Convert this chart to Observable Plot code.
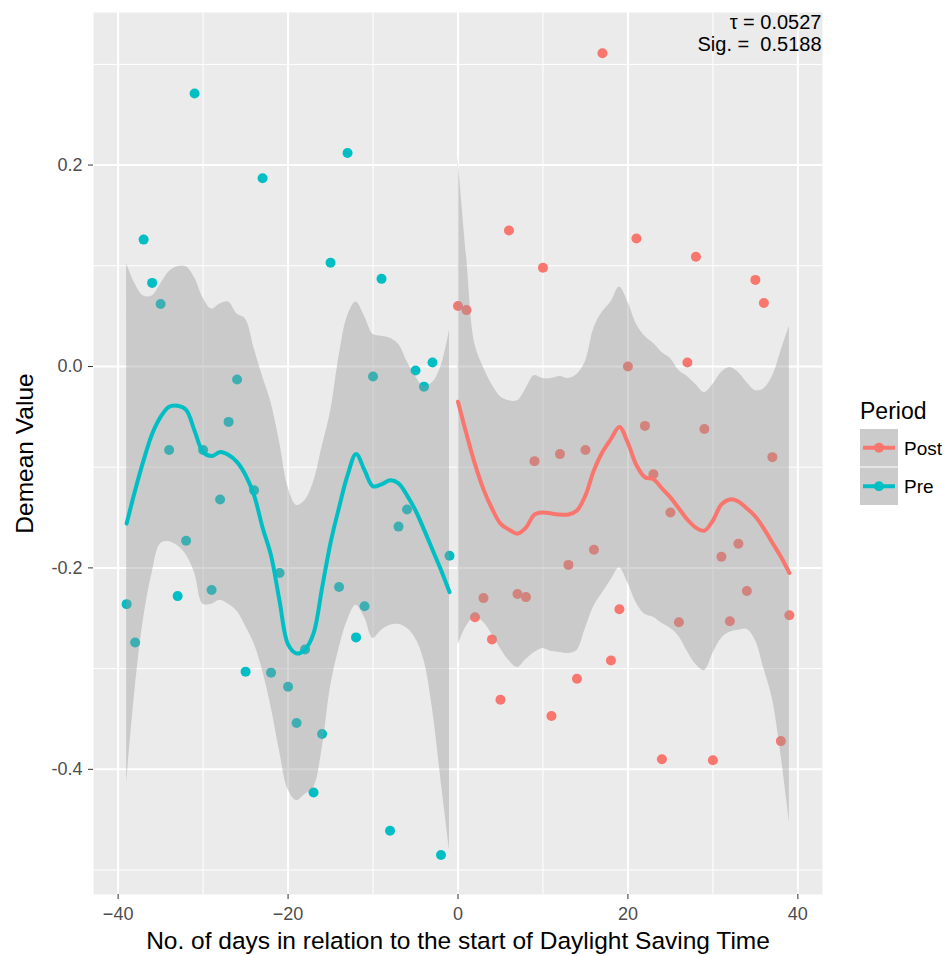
<!DOCTYPE html>
<html><head><meta charset="utf-8">
<script src="https://cdn.jsdelivr.net/npm/d3@7"></script>
<script src="https://cdn.jsdelivr.net/npm/@observablehq/plot@0.6"></script>
<style>
body{margin:0;background:#fff;font-family:"Liberation Sans",Arial,Helvetica,sans-serif;}
#wrap{position:relative;width:946px;height:956px;background:#fff;}
#chart{position:absolute;left:0;top:0;}
#legend{position:absolute;left:858px;top:394px;}
</style></head><body>
<div id="wrap"><div id="chart"></div><div id="legend"></div></div>
<script>
// ---- data ----
const periods = ["Post", "Pre"];
const periodColors = ["#F8766D", "#00BFC4"];

const preDays = [-39,-38,-37,-36,-35,-34,-33,-32,-31,-30,-29,-28,-27,-26,-25,-24,-23,-22,-21,-20,-19,-18,-17,-16,-15,-14,-13,-12,-11,-10,-9,-8,-7,-6,-5,-4,-3,-2,-1];
const preValues = [-0.236,-0.274,0.126,0.083,0.062,-0.083,-0.228,-0.173,0.271,-0.083,-0.222,-0.132,-0.055,-0.013,-0.303,-0.123,0.187,-0.304,-0.205,-0.318,-0.354,-0.281,-0.423,-0.365,0.103,-0.219,0.212,-0.269,-0.238,-0.010,0.087,-0.461,-0.159,-0.142,-0.004,-0.020,0.004,-0.485,-0.188];
const preFit = [-0.156,-0.123,-0.093,-0.067,-0.050,-0.040,-0.039,-0.043,-0.064,-0.085,-0.089,-0.085,-0.088,-0.095,-0.108,-0.128,-0.160,-0.188,-0.233,-0.276,-0.285,-0.281,-0.265,-0.220,-0.175,-0.140,-0.108,-0.087,-0.103,-0.119,-0.117,-0.113,-0.116,-0.128,-0.143,-0.162,-0.182,-0.202,-0.224];
const preUpper = [0.102,0.082,0.070,0.070,0.082,0.094,0.099,0.099,0.088,0.068,0.057,0.062,0.064,0.052,0.047,0.018,-0.010,-0.036,-0.075,-0.120,-0.138,-0.133,-0.115,-0.080,-0.045,0.010,0.050,0.064,0.050,0.032,0.030,0.028,0.022,0.005,-0.010,-0.020,-0.016,0.000,0.036];
const preLower = [-0.414,-0.320,-0.250,-0.205,-0.176,-0.174,-0.178,-0.187,-0.205,-0.236,-0.236,-0.232,-0.236,-0.243,-0.258,-0.275,-0.302,-0.338,-0.382,-0.420,-0.431,-0.425,-0.418,-0.380,-0.318,-0.280,-0.252,-0.237,-0.249,-0.270,-0.262,-0.257,-0.256,-0.260,-0.270,-0.292,-0.340,-0.411,-0.480];

const postDays = [0,1,2,3,4,5,6,7,8,9,10,11,12,13,14,15,16,17,18,19,20,21,22,23,24,25,26,27,28,29,30,31,32,33,34,35,36,37,38,39];
const postValues = [0.060,0.056,-0.249,-0.230,-0.271,-0.331,0.135,-0.226,-0.229,-0.094,0.098,-0.347,-0.087,-0.197,-0.310,-0.083,-0.182,0.311,-0.292,-0.241,0.000,0.127,-0.059,-0.107,-0.390,-0.145,-0.254,0.004,0.109,-0.062,-0.391,-0.189,-0.253,-0.176,-0.223,0.086,0.063,-0.090,-0.372,-0.247];
const postFit = [-0.035,-0.067,-0.097,-0.122,-0.141,-0.156,-0.162,-0.166,-0.160,-0.147,-0.145,-0.146,-0.147,-0.147,-0.143,-0.128,-0.103,-0.085,-0.072,-0.060,-0.076,-0.098,-0.110,-0.112,-0.121,-0.130,-0.141,-0.152,-0.160,-0.163,-0.153,-0.137,-0.132,-0.134,-0.141,-0.149,-0.161,-0.175,-0.189,-0.205];
const postUpper = [0.208,0.110,0.022,-0.001,-0.018,-0.030,-0.034,-0.034,-0.022,-0.009,-0.012,-0.012,-0.010,-0.012,-0.008,0.005,0.038,0.054,0.064,0.079,0.064,0.042,0.030,0.023,0.014,0.008,-0.004,-0.010,-0.018,-0.026,-0.018,-0.006,-0.001,-0.006,-0.016,-0.024,-0.022,-0.010,0.015,0.040];
const postLower = [-0.277,-0.258,-0.249,-0.254,-0.266,-0.280,-0.292,-0.299,-0.291,-0.284,-0.280,-0.283,-0.284,-0.285,-0.282,-0.260,-0.238,-0.225,-0.212,-0.200,-0.215,-0.235,-0.246,-0.249,-0.255,-0.260,-0.268,-0.283,-0.296,-0.302,-0.285,-0.270,-0.264,-0.262,-0.261,-0.272,-0.300,-0.330,-0.385,-0.452];

const xTicks = [-40, -20, 0, 20, 40];
const xMinor = [-30, -10, 10, 30];
const yTicks = [-0.4, -0.2, 0.0, 0.2];
const yMinor = [-0.5, -0.3, -0.1, 0.1, 0.3];

const annotLines = ["\u03C4 = 0.0527", "Sig. =\u00A0 0.5188"];
const xTitle = "No. of days in relation to the start of Daylight Saving Time";
const yTitle = "Demean Value";
const legendTitle = "Period";

// ---- tables ----
const prePts = preDays.map((d, i) => ({day: d, value: preValues[i]}));
const postPts = postDays.map((d, i) => ({day: d, value: postValues[i]}));
const preSm = preDays.map((d, i) => ({day: d, fit: preFit[i], lo: preLower[i], hi: preUpper[i]}));
const postSm = postDays.map((d, i) => ({day: d, fit: postFit[i], lo: postLower[i], hi: postUpper[i]}));

const colPost = periodColors[0], colPre = periodColors[1];
const font = "'Liberation Sans', Arial, Helvetica, sans-serif";

const chart = Plot.plot({
  width: 830,
  height: 956,
  marginLeft: 93,
  marginRight: 8,
  marginTop: 12,
  marginBottom: 62,
  style: {fontFamily: font, background: "white", overflow: "visible"},
  x: {domain: [-42.9, 42.9], label: null},
  y: {domain: [-0.5243, 0.3515], label: null},
  marks: [
    Plot.frame({fill: "#EBEBEB", stroke: "none"}),
    Plot.ruleX(xMinor, {stroke: "white", strokeWidth: 1}),
    Plot.ruleY(yMinor, {stroke: "white", strokeWidth: 1}),
    Plot.ruleX(xTicks, {stroke: "white", strokeWidth: 2}),
    Plot.ruleY(yTicks, {stroke: "white", strokeWidth: 2}),
    Plot.dot(prePts, {x: "day", y: "value", fill: colPre, r: 5}),
    Plot.dot(postPts, {x: "day", y: "value", fill: colPost, r: 5}),
    Plot.areaY(preSm, {x: "day", y1: "lo", y2: "hi", fill: "#999999", fillOpacity: 0.4, curve: "catmull-rom"}),
    Plot.areaY(postSm, {x: "day", y1: "lo", y2: "hi", fill: "#999999", fillOpacity: 0.4, curve: "catmull-rom"}),
    Plot.line(preSm, {x: "day", y: "fit", stroke: colPre, strokeWidth: 4, curve: "catmull-rom"}),
    Plot.line(postSm, {x: "day", y: "fit", stroke: colPost, strokeWidth: 4, curve: "catmull-rom"}),
    Plot.text([annotLines.join("\n")], {frameAnchor: "top-right", text: d => d, textAnchor: "end", lineAnchor: "top", fontSize: 20, lineHeight: 1.1, dx: -1, dy: 1, fill: "black"}),
    Plot.axisX(xTicks, {tickSize: 5, tickPadding: 8, fontSize: 18, fill: "#4D4D4D", stroke: "#333333", label: null,
      tickFormat: d => d < 0 ? "\u2212" + (-d) : String(d)}),
    Plot.axisY(yTicks, {tickSize: 5, tickPadding: 6, fontSize: 18, fill: "#4D4D4D", stroke: "#333333", label: null,
      tickFormat: d => d.toFixed(1)}),
    Plot.text([xTitle], {frameAnchor: "bottom", text: d => d, textAnchor: "middle", dy: 47, lineAnchor: "middle", fontSize: 24.5, fill: "black"}),
    Plot.text([yTitle], {frameAnchor: "left", text: d => d, textAnchor: "middle", rotate: -90, dx: -68.5, lineAnchor: "middle", fontSize: 24.5, fill: "black"})
  ]
});
document.getElementById("chart").appendChild(chart);

// ---- legend ----
const lg = d3.select("#legend").append("svg").attr("width", 88).attr("height", 116)
  .style("font-family", font);
lg.append("text").attr("x", 2).attr("y", 25).attr("font-size", 23).attr("fill", "black").text(legendTitle);
periods.forEach((p, i) => {
  const y0 = 35 + i * 38.5;
  const g = lg.append("g").attr("transform", `translate(2,${y0})`);
  g.append("rect").attr("width", 38).attr("height", 37.5).attr("fill", "#CBCBCB");
  g.append("line").attr("x1", 3).attr("x2", 35).attr("y1", 18.75).attr("y2", 18.75)
    .attr("stroke", periodColors[i]).attr("stroke-width", 4);
  g.append("circle").attr("cx", 19).attr("cy", 18.75).attr("r", 5).attr("fill", periodColors[i]);
  g.append("text").attr("x", 44).attr("y", 25.5).attr("font-size", 19).attr("fill", "black").text(p);
});
</script>
</body></html>
